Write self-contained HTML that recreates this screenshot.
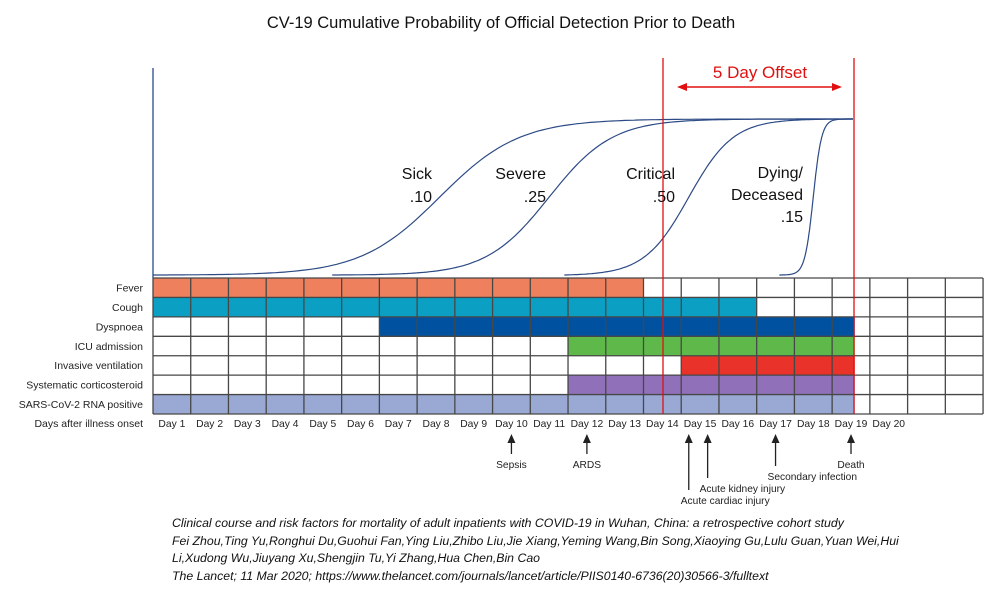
<!DOCTYPE html>
<html><head><meta charset="utf-8"><style>
body{margin:0;background:#fff;}
svg{display:block;font-family:"Liberation Sans",sans-serif;}
</style></head><body>
<svg id="chart" width="1002" height="599" viewBox="0 0 1002 599" xmlns="http://www.w3.org/2000/svg">
<text x="501" y="28" text-anchor="middle" font-size="16.5" fill="#111">CV-19 Cumulative Probability of Official Detection Prior to Death</text>
<g id="curves"></g>
<g id="grid"></g>
<g id="events"></g>
<g>
<line x1="663" y1="58" x2="663" y2="414" stroke="#e01010" stroke-width="1.3"/>
<line x1="854" y1="58" x2="854" y2="414" stroke="#e01010" stroke-width="1.3"/>
<line x1="684" y1="87" x2="835" y2="87" stroke="#e01010" stroke-width="1.5"/>
<polygon points="677,87 687,83 687,91" fill="#e01010"/>
<polygon points="842,87 832,83 832,91" fill="#e01010"/>
<text x="760" y="78" text-anchor="middle" font-size="17" fill="#e01010">5 Day Offset</text>
</g>
<g font-size="16" fill="#111" text-anchor="end">
<text x="432" y="179">Sick</text>
<text x="432" y="202">.10</text>
<text x="546" y="179">Severe</text>
<text x="546" y="202">.25</text>
<text x="675" y="179">Critical</text>
<text x="675" y="202">.50</text>
<text x="803" y="178">Dying/</text>
<text x="803" y="200">Deceased</text>
<text x="803" y="222">.15</text>
</g>
<g font-size="12.3" font-style="italic" fill="#111">
<text x="172" y="527">Clinical course and risk factors for mortality of adult inpatients with COVID-19 in Wuhan,  China: a retrospective cohort study</text>
<text x="172" y="545">Fei Zhou,Ting Yu,Ronghui Du,Guohui Fan,Ying Liu,Zhibo Liu,Jie Xiang,Yeming Wang,Bin Song,Xiaoying Gu,Lulu Guan,Yuan Wei,Hui</text>
<text x="172" y="562">Li,Xudong Wu,Jiuyang Xu,Shengjin Tu,Yi Zhang,Hua Chen,Bin Cao</text>
<text x="172" y="580">The Lancet; 11 Mar 2020; https://www.thelancet.com/journals/lancet/article/PIIS0140-6736(20)30566-3/fulltext</text>
</g>
</svg>
<script>
const rowNames=["Fever","Cough","Dyspnoea","ICU admission","Invasive ventilation","Systematic corticosteroid","SARS-CoV-2 RNA positive"];
const rowStart=[1,1,7,12,15,12,1];
const rowEnd=[13,16,18.6,18.6,18.6,18.6,18.6];
const rowColors=["#ef805e","#0ba0c3","#0052a0","#5fb94a","#e8322a","#9070b8","#99a9d4"];
const dayLabels=["Day 1","Day 2","Day 3","Day 4","Day 5","Day 6","Day 7","Day 8","Day 9","Day 10","Day 11","Day 12","Day 13","Day 14","Day 15","Day 16","Day 17","Day 18","Day 19","Day 20"];
const eventNames=["Sepsis","ARDS","Acute cardiac injury","Acute kidney injury","Secondary infection","Death"];
const eventDay=[10,12,14.7,15.2,17,19];
const eventDepth=[1,1,4,3,2,1];
const NS="http://www.w3.org/2000/svg";
const x0=153,colW=37.73,nCols=22,y0=278,rowH=19.43;
const xCol=d=>x0+d*colW;
function mk(tag,attrs,parent){const e=document.createElementNS(NS,tag);for(const k in attrs)e.setAttribute(k,attrs[k]);parent.appendChild(e);return e;}
const grid=document.getElementById('grid');
rowNames.forEach((n,i)=>{
  const r=mk('rect',{x:xCol(rowStart[i]-1),y:y0+i*rowH,width:xCol(rowEnd[i])-xCol(rowStart[i]-1),height:rowH,fill:rowColors[i]},grid);
  
  
  const t=mk('text',{x:143,y:y0+i*rowH+13.5,'text-anchor':'end','font-size':'10.5',fill:'#222'},grid);
  t.textContent=n;
  
  
});
for(let i=0;i<=7;i++)mk('line',{x1:x0,x2:xCol(nCols),y1:y0+i*rowH,y2:y0+i*rowH,stroke:'#474747','stroke-width':1.3},grid);
for(let c=0;c<=nCols;c++)mk('line',{x1:xCol(c),x2:xCol(c),y1:y0,y2:y0+7*rowH,stroke:'#474747','stroke-width':1.3},grid);
const al=mk('text',{x:143,y:427,'text-anchor':'end','font-size':'10.5',fill:'#222'},grid);
al.textContent="Days after illness onset";


dayLabels.forEach((d,i)=>{
  const t=mk('text',{x:xCol(i)+colW/2,y:427,'text-anchor':'middle','font-size':'10.3',fill:'#222'},grid);
  t.textContent=d;
  
  
});
const ev=document.getElementById('events');
const depthY=[0,464,476,488,500];
eventNames.forEach((n,i)=>{
  const x=xCol(eventDay[i]-0.5);const yl=depthY[eventDepth[i]];
  const l=mk('line',{x1:x,x2:x,y1:441,y2:yl-10,stroke:'#222','stroke-width':1.3},ev);
  
  
  mk('polygon',{points:`${x},434 ${x-4},443 ${x+4},443`,fill:'#222'},ev);
  let tx=x,anch='middle';
  if(eventDepth[i]>1){tx=x-8;anch='start';}
  const t=mk('text',{x:tx,y:yl+4,'text-anchor':anch,'font-size':'10.2',fill:'#222'},ev);
  t.textContent=n;
  
  
});
// cumulative curves: start day, midpoint day, steepness
const curveNames=["sick","severe","critical","dying"];
const curveStart=[0,4.75,10.9,16.6];
const curveMid=[7.6,10.5,14.2,17.5];
const curveK=[0.95,1.2,1.7,9.0];
const endDay=18.55,yLow=275,yHigh=119;
const cv=document.getElementById('curves');
mk('line',{x1:x0,x2:x0,y1:68,y2:y0,stroke:'#2a4a8a','stroke-width':1.3},cv);
curveNames.forEach((n,i)=>{
  const f=d=>1/(1+Math.exp(-curveK[i]*(d-curveMid[i])));
  const a=f(curveStart[i]),b=f(endDay);
  let p='';
  for(let s=0;s<=160;s++){const d=curveStart[i]+(endDay-curveStart[i])*s/160;const v=(f(d)-a)/(b-a);
    p+=(s?'L':'M')+xCol(d).toFixed(1)+','+(yLow-(yLow-yHigh)*v).toFixed(1);}
  const e=mk('path',{d:p,fill:'none',stroke:'#2c4a85','stroke-width':1.2},cv);
  
  
});
</script>
</body></html>
